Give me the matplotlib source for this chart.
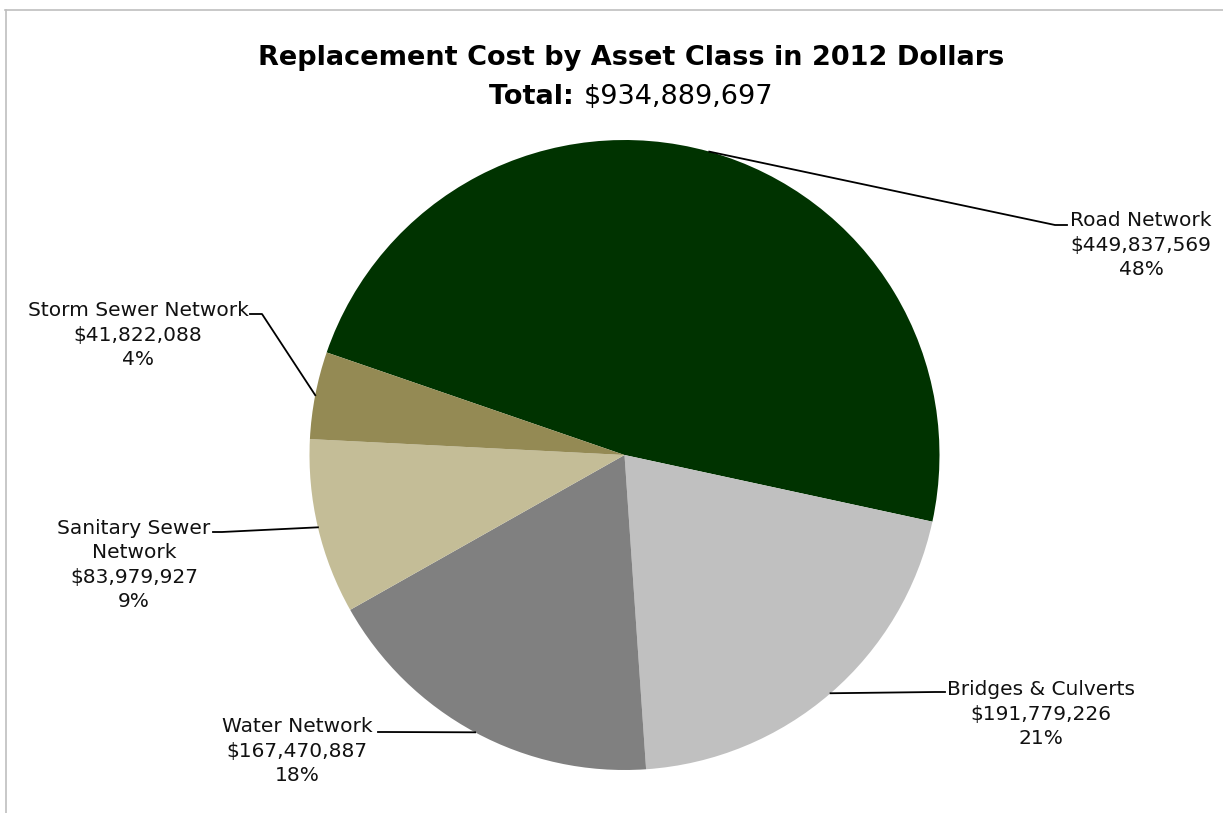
import numpy as np
import matplotlib
matplotlib.use("Agg")
import matplotlib.pyplot as plt
from matplotlib.lines import Line2D

# asset classes, clockwise from the upper-left
asset_names = ["Road Network", "Bridges & Culverts", "Water Network",
               "Sanitary Sewer\nNetwork", "Storm Sewer Network"]
replacement_cost = [449837569, 191779226, 167470887, 83979927, 41822088]
slice_colors = ["#003300", "#C0C0C0", "#808080", "#C4BD97", "#948A54"]

W, H = 1223, 813
fig = plt.figure(figsize=(W / 100, H / 100), dpi=100)


def fx(x):
    return x / W


def fy(y):
    return 1 - y / H


# pie placement in pixels
cx, cy, r = 624.5, 455, 315
ax = fig.add_axes([fx(cx - r), fy(cy + r), 2 * r / W, 2 * r / H])
start = 161
wedges, _ = ax.pie(replacement_cost, colors=slice_colors, startangle=start,
                   counterclock=False, radius=1,
                   wedgeprops=dict(linewidth=0))
ax.set_xlim(-1, 1)
ax.set_ylim(-1, 1)
ax.set_aspect("auto")
ax.axis("off")

total = sum(replacement_cost)

# chart border (light gray frame)
fig.add_artist(Line2D([fx(5), fx(1223)], [fy(10), fy(10)], color="#BFBFBF", lw=1.2))
fig.add_artist(Line2D([fx(6), fx(6)], [fy(10), fy(813)], color="#BFBFBF", lw=1.2))

# title
fig.text(fx(631), fy(58), "Replacement Cost by Asset Class in 2012 Dollars",
         ha="center", va="center", fontsize=19.5, fontweight="bold", color="black")
t1 = fig.text(0, fy(97), "Total: ", ha="left", va="center",
              fontsize=19.5, fontweight="bold")
t2 = fig.text(0, fy(97), f"${total:,}", ha="left", va="center", fontsize=19.5)
rend = fig.canvas.get_renderer()
w1 = t1.get_window_extent(rend).width
w2 = t2.get_window_extent(rend).width
x0 = 631 - (w1 + w2) / 2
t1.set_x(fx(x0))
t2.set_x(fx(x0 + w1))

# label layout: text block centre, elbow point, line end (pixels)
label_pos = [(1141, 245), (1041, 714), (297, 751), (134, 565), (138, 335)]
elbows = [((1055, 225), (1067, 225)),
          ((935, 692), (945, 692)),
          ((385, 732), (378, 732)),
          ((222, 532), (213, 532)),
          ((262, 314), (250, 314))]

cum = 0
for name, val, (tx, ty), (e1, e2) in zip(asset_names, replacement_cost, label_pos, elbows):
    frac = val / total
    mid = np.deg2rad(start - 360 * (cum + frac / 2))
    cum += frac
    ex, ey = cx + r * np.cos(mid), cy - r * np.sin(mid)
    fig.add_artist(Line2D([fx(ex), fx(e1[0]), fx(e2[0])],
                          [fy(ey), fy(e1[1]), fy(e2[1])],
                          color="black", lw=1.3))
    label = f"{name}\n${val:,}\n{frac * 100:.0f}%"
    fig.text(fx(tx), fy(ty), label, ha="center", va="center",
             multialignment="center", fontsize=14.5, linespacing=1.35,
             color="#111111")

fig.savefig("out.png", dpi=100)
